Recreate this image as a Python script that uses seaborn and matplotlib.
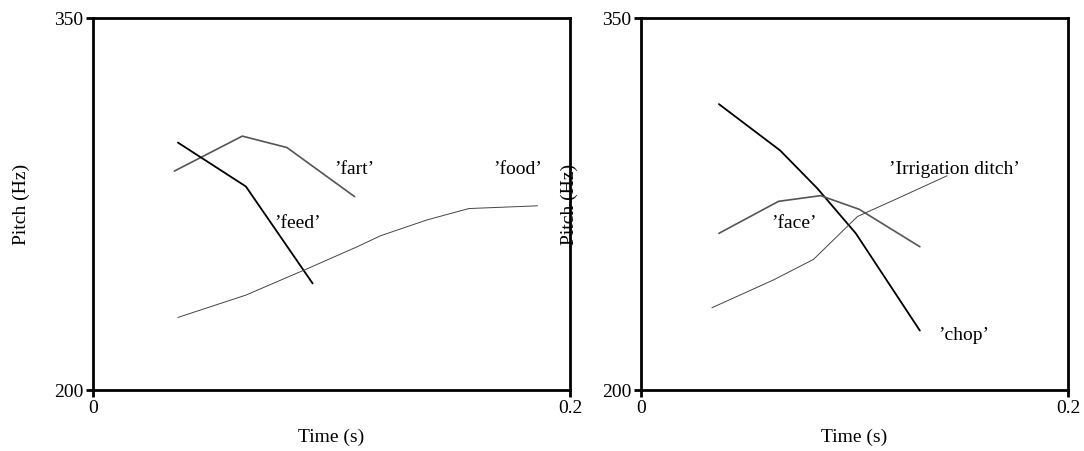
import numpy as np
import pandas as pd
import seaborn as sns
from matplotlib import pyplot as plt

# pitch tracks (time in s, pitch in Hz)
fart_t = [0.0341, 0.0626, 0.0813, 0.1097]
fart_hz = [288.3, 302.4, 297.8, 278.0]
feed_t = [0.0356, 0.0641, 0.0921]
feed_hz = [299.8, 282.1, 243.0]
food_t = [0.0356, 0.0641, 0.0900, 0.1108, 0.1205, 0.1400, 0.1576, 0.1864]
food_hz = [229.3, 238.3, 249.0, 257.8, 262.2, 268.6, 273.2, 274.3]

chop_t = [0.0365, 0.0652, 0.0825, 0.1006, 0.1306]
chop_hz = [315.3, 296.6, 281.4, 263.2, 224.0]
face_t = [0.0365, 0.0644, 0.0841, 0.1022, 0.1306]
face_hz = [263.2, 276.1, 278.4, 272.9, 257.8]
ditch_t = [0.0332, 0.0620, 0.0808, 0.1014, 0.1187, 0.1433]
ditch_hz = [233.2, 244.4, 252.7, 270.0, 276.7, 286.4]

# word labels: (text, time, pitch)
left_labels = [("\u2019fart\u2019", 0.1010, 288.8),
               ("\u2019feed\u2019", 0.0760, 267.0),
               ("\u2019food\u2019", 0.1680, 288.8)]
right_labels = [("\u2019Irrigation ditch\u2019", 0.1160, 289.0),
                ("\u2019face\u2019", 0.0610, 267.0),
                ("\u2019chop\u2019", 0.1390, 222.0)]

sns.set_style("white")
plt.rcParams['font.family'] = ['Liberation Serif', 'DejaVu Serif']
plt.rcParams['font.size'] = 13
for k in ['text.color', 'axes.labelcolor', 'xtick.color', 'ytick.color']:
    plt.rcParams[k] = 'black'

fig = plt.figure(figsize=(10.84, 4.51), dpi=100)
ax1 = fig.add_axes([0.0858, 0.135, 0.440, 0.825])
ax2 = fig.add_axes([0.5913, 0.135, 0.394, 0.825])


def track(ax, t, hz, color, lw):
    df = pd.DataFrame({"t": t, "hz": hz})
    sns.lineplot(x="t", y="hz", data=df, ax=ax, color=color, linewidth=lw, sort=False)


track(ax1, fart_t, fart_hz, "#555555", 1.2)
track(ax1, feed_t, feed_hz, "black", 1.3)
track(ax1, food_t, food_hz, "#444444", 0.7)

track(ax2, chop_t, chop_hz, "black", 1.3)
track(ax2, face_t, face_hz, "#555555", 1.2)
track(ax2, ditch_t, ditch_hz, "#444444", 0.7)

for ax, labels, ylab_x in [(ax1, left_labels, -0.132), (ax2, right_labels, -0.148)]:
    for txt, x, y in labels:
        ax.text(x, y, txt, fontsize=14, va="center", ha="left")
    ax.set_xlim(0, 0.2)
    ax.set_ylim(200, 350)
    ax.set_xticks([0, 0.2])
    ax.set_xticklabels(["0", "0.2"])
    ax.set_yticks([200, 350])
    ax.set_yticklabels(["200", "350"])
    ax.tick_params(direction="out", length=5, width=2, pad=2, labelsize=14,
                   bottom=True, left=True)
    for s in ax.spines.values():
        s.set_linewidth(2)
        s.set_color("black")
    ax.set_xlabel("Time (s)", fontsize=14)
    ax.set_ylabel("Pitch (Hz)", fontsize=14)
    ax.yaxis.set_label_coords(ylab_x, 0.5)
    ax.xaxis.set_label_coords(0.5, -0.105)

plt.savefig("out.png", dpi=100)
